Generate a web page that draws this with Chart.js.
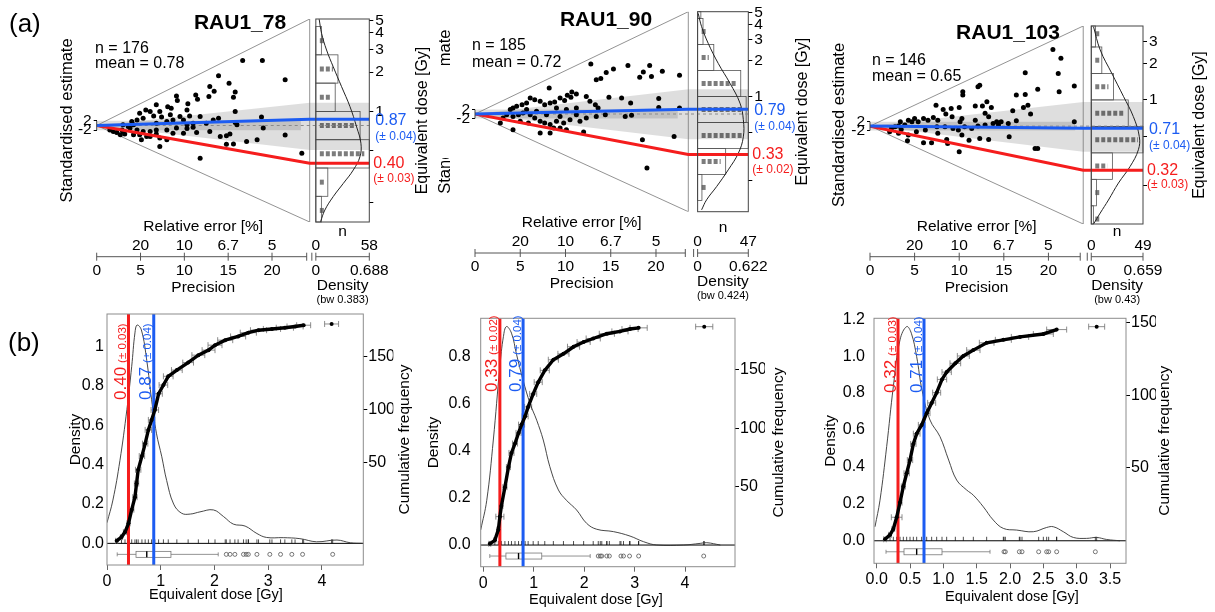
<!DOCTYPE html>
<html>
<head>
<meta charset="utf-8">
<title>Abanico and KDE plots</title>
<script src="https://cdn.jsdelivr.net/npm/chart.js@4.4.1/dist/chart.umd.min.js"></script>
<style>
  html, body { margin: 0; padding: 0; background: #fff; }
  #page { position: relative; width: 1215px; height: 612px; overflow: hidden;
          font-family: "Liberation Sans", Arial, Helvetica, sans-serif; color: #000; background: #fff; }
  #page canvas { position: absolute; left: 0; top: 0; }
  .txt { position: absolute; white-space: nowrap; z-index: 10; }
  .tag { font-size: 26px; line-height: 26px; }
  .title { font-size: 21px; line-height: 21px; font-weight: bold; transform: translateX(-50%); }
  .stat { font-size: 16px; line-height: 16px; }
  .mask { position: absolute; background: #fff; z-index: 9; }
</style>
</head>
<body>
<div id="page">
  <div class="txt tag" style="left:9px;top:10px">(a)</div>
  <div class="txt tag" style="left:8px;top:329px">(b)</div>

  <div class="txt title" style="left:240px;top:11px">RAU1_78</div>
  <div class="txt title" style="left:606px;top:8px">RAU1_90</div>
  <div class="txt title" style="left:1008px;top:21px">RAU1_103</div>

  <div class="txt stat" style="left:95px;top:40px">n = 176</div>
  <div class="txt stat" style="left:95px;top:55px">mean = 0.78</div>
  <div class="txt stat" style="left:472px;top:37px">n = 185</div>
  <div class="txt stat" style="left:472px;top:54px">mean = 0.72</div>
  <div class="txt stat" style="left:872px;top:52px">n = 146</div>
  <div class="txt stat" style="left:872px;top:68px">mean = 0.65</div>

  <div class="mask" style="left:437px;top:65px;width:17px;height:93px"></div>
</div>

<script>
const FONT = '"Liberation Sans", Arial, Helvetica, sans-serif';
const RED = '#f51d1d';
const BLUE = '#1c5cf2';

// values
const samples = ['RAU1_78', 'RAU1_90', 'RAU1_103'];
const centralDose = [0.78, 0.72, 0.74];
const blueDose = [0.87, 0.79, 0.71];
const blueErr = [0.04, 0.04, 0.04];
const redDose = [0.40, 0.33, 0.32];
const redErr = [0.03, 0.02, 0.03];
const bandwidth = ['0.383', '0.424', '0.43'];
const nMaxTop = [58, 47, 49];
const densMaxTop = [0.688, 0.622, 0.659];
const wedgeUpper = [9.8, 11.2, 11.0];
const wedgeLower = [-10.5, -11.5, -11.7];

const zTicks = [-2, 2];
const precTicks = [0, 5, 10, 15, 20];
const relErrTicks = [5, 10, 15, 20];
const relErrLabels = ['20', '10', '6.7', '5'];
const doseTicks = [[0.2, 0.5, 1, 2, 3, 4, 5], [0.2, 0.5, 1, 2, 3, 4, 5], [0.2, 0.5, 1, 2, 3]];

// abanico dots: precision and standardised estimate
const prec78 = [16.65,18.9,21.5,13.9,15.1,13.4,12.9,15.8,15.6,12.8,11.3,11.5,10.4,10.3,9.1,9.2,8.1,8.5,6.8,7.2,
  5.6,6.1,4.9,6.5,7.4,8.4,9.5,10.6,11.8,11.0,9.9,8.7,8.0,5.3,4.6,4.0,4.2,3.0,3.6,15.8,
  18.8,15.8,16.0,13.9,13.3,12.5,11.0,10.3,9.1,8.0,6.8,6.1,5.3,4.6,3.8,2.9,2.3,2.7,3.2,4.2,
  4.9,6.1,6.8,7.2,8.7,9.9,11.4,12.9,14.8,15.2,14.1,17.1,18.3,19.0,21.5,14.8,15.6,7.2,8.0,11.8,
  23.4,5.7,5.1,3.0,1.5,1.9,10.3,6.8];
const z78 = [27.9,27.9,19.6,21.3,18.1,14.7,16.7,14.4,12.1,12.4,13.1,11.3,9.3,6.7,12.7,10.7,8.1,7.4,8.9,6.0,
  6.7,6.0,5.3,4.1,3.6,4.6,3.9,4.1,3.9,1.0,2.4,2.4,1.7,3.1,2.4,1.7,0.3,0.3,-0.4,6.0,
  3.6,1.3,0.3,3.1,2.4,1.0,-0.7,-1.3,-1.1,-1.9,-1.9,-2.6,-2.6,-1.9,-1.1,-1.9,-3.0,-4.0,-3.6,-4.0,
  -4.0,-4.7,-3.6,-5.4,-3.3,-3.3,-3.0,-2.6,-4.4,-3.6,-4.7,-6.9,-6.1,-1.1,-4.1,-8.0,-7.9,-9.0,-6.1,-14.0,
  -11.9,-4.7,-6.1,-2.6,-1.9,-2.6,0.3,1.0];
const prec90 = [12.8,16.9,19.3,22.6,20.7,18.6,19.5,18.2,15.3,14.5,13.9,13.4,8.2,11.2,10.7,10.2,10.6,9.9,9.4,8.8,
  8.3,7.7,7.2,6.6,6.1,5.7,5.2,4.6,4.2,3.9,12.3,12.7,13.3,13.6,14.8,16.2,17.2,20.3,20.3,22.6,
  16.6,17.3,14.4,13.4,12.3,11.6,10.5,9.8,9.0,8.3,7.7,7.2,6.6,6.1,5.3,4.8,4.2,3.5,3.1,2.8,
  4.2,7.2,8.3,8.7,9.4,10.1,12.0,22.0,18.5,19.0,6.8,5.7,9.0,10.1,11.2,7.9,9.4,11.2,5.0,5.9];
const z90 = [22.7,22.1,22.1,17.6,19.4,19.1,17.1,16.7,20.5,18.9,16.1,15.6,11.8,9.1,10.0,8.5,7.6,6.1,7.3,5.5,
  5.0,4.2,5.8,6.5,7.3,5.0,4.2,3.5,2.7,2.0,8.0,5.8,4.2,2.7,7.6,7.3,5.0,7.0,3.0,2.7,
  -1.1,-0.6,-0.3,-1.1,-1.8,-3.3,-2.6,-4.1,-3.3,-4.8,-4.1,-3.3,-1.8,-0.3,0.5,-0.3,-1.1,-0.3,-1.8,-4.1,
  -7.1,-8.6,-8.6,-6.4,-6.4,-7.1,-8.2,-10.2,-11.7,-24.5,1.2,2.0,2.7,2.0,2.7,-0.3,-1.1,-0.3,-3.3,-4.1];
const prec103 = [20.5,21.4,17.4,21.1,22.9,21.2,18.8,17.4,16.4,12.3,12.1,10.4,10.4,7.4,8.2,9.1,10.0,8.5,9.2,10.3,
  10.1,11.8,12.6,13.1,13.6,13.3,12.9,14.2,14.7,16.0,17.2,17.7,18.0,16.4,15.5,14.4,13.8,12.9,12.1,11.4,
  10.6,9.9,9.3,8.4,7.6,7.1,6.5,6.0,5.4,5.0,4.7,4.3,3.9,3.4,3.2,2.8,2.4,2.2,3.2,4.3,
  4.2,6.0,6.9,8.7,8.6,10.0,12.3,13.3,15.6,18.5,18.8,22.9,11.1,10.3,7.6,6.2,5.2,3.5,11.8,7.5];
const z103 = [34.8,30.8,24.2,23.9,18.2,15.6,16.7,14.4,14.1,18.6,17.9,15.6,14.1,9.5,7.6,8.0,8.5,5.5,4.2,3.5,
  2.0,9.1,9.1,11.1,8.5,4.2,5.8,2.0,2.0,7.0,8.5,9.5,5.5,2.4,1.2,0.5,1.2,0.5,0,-1.1,
  -0.3,-1.8,-1.1,-0.3,2.7,3.9,2.7,3.5,2.0,3.5,2.0,2.7,0.5,2.0,0,-0.3,-1.1,-2.6,-3.3,-4.1,
  -6.7,-7.6,-7.6,-7.9,-6.1,-11.7,-5.6,-6.1,-4.8,-10.2,-10.2,2.0,-6.4,-4.1,-3.3,-1.8,-2.6,-1.5,2.7,-0.3];

// histograms of log dose (bin edges in ln Gy, counts low to high)
const binEdgesLn = [-2.5, -2, -1.5, -1, -0.5, 0, 0.5, 1, 1.5, 2];
const hist78 = [0, 6, 13, 58, 48, 21, 24, 6, 0];
const hist90 = [0, 4, 26, 47, 45, 40, 15, 5, 3];
const hist103 = [2, 5, 20, 49, 35, 21, 10, 4, 0];

// KDE beside the histograms (density, dose)
const kdeTopDens78 = [0.043,0.074,0.138,0.224,0.331,0.439,0.525,0.58,0.568,0.482,0.353,0.224,0.116,0.06];
const kdeTopDose78 = [5.1,3.97,2.96,2.2,1.55,1.09,0.76,0.57,0.45,0.355,0.28,0.222,0.175,0.142];
const kdeTopDens90 = [0.007,0.049,0.13,0.253,0.397,0.52,0.561,0.561,0.5,0.376,0.234,0.11,0.049];
const kdeTopDose90 = [4.95,3.83,2.78,1.89,1.29,0.88,0.64,0.46,0.336,0.244,0.177,0.137,0.113];
const kdeTopDens103 = [0.029,0.114,0.262,0.41,0.536,0.612,0.6,0.494,0.346,0.219,0.114,0.029];
const kdeTopDose103 = [3.98,2.57,1.65,1.07,0.73,0.50,0.39,0.284,0.208,0.151,0.118,0.096];

// (b) cumulative curves: dose, rank, error
const ecdfDose78 = [0.18,0.27,0.335,0.40,0.46,0.52,0.55,0.58,0.65,0.71,0.77,0.83,0.89,0.96,1.05,1.14,1.30,1.51,1.70,1.89,
  2.01,2.20,2.44,2.63,2.82,3.07,3.31,3.50,3.66,4.18];
const ecdfRank78 = [2,5,9,16,27,37,48,59,70,80,91,99,107,120,127,134,139,145,151,155,159,163,166,169,171,172,173,174,175,176];
const ecdfErr78 = [0.02,0.02,0.03,0.03,0.04,0.04,0.04,0.05,0.05,0.05,0.06,0.06,0.07,0.07,0.08,0.09,0.1,0.1,0.12,0.12,
  0.13,0.14,0.14,0.15,0.15,0.16,0.16,0.15,0.13,0.13];
const ecdfDose90 = [0.13,0.23,0.30,0.33,0.36,0.43,0.50,0.56,0.63,0.70,0.76,0.83,0.89,0.99,1.09,1.22,1.39,1.59,1.79,1.99,
  2.18,2.45,2.71,2.91,3.08,4.38];
const ecdfRank90 = [1,4,13,24,33,49,66,78,86,95,102,109,117,128,138,148,157,162,168,172,175,179,181,183,184,185];
const ecdfErr90 = [0.02,0.02,0.03,0.08,0.03,0.04,0.04,0.05,0.05,0.05,0.06,0.06,0.07,0.07,0.08,0.09,0.1,0.11,0.12,0.13,
  0.14,0.15,0.16,0.16,0.17,0.17];
const ecdfDose103 = [0.125,0.20,0.25,0.30,0.35,0.40,0.45,0.50,0.55,0.60,0.675,0.75,0.825,0.90,0.98,1.05,1.18,1.30,1.45,1.65,
  1.90,2.15,2.50,2.70,3.30];
const ecdfRank103 = [1,4,8,16,26,37,46,55,66,73,79,87,94,101,110,115,121,126,130,135,137,139,141,144,146];
const ecdfErr103 = [0.02,0.02,0.02,0.08,0.03,0.03,0.04,0.04,0.04,0.05,0.05,0.05,0.06,0.06,0.07,0.07,0.08,0.09,0.1,0.11,
  0.12,0.13,0.15,0.15,0.12];

// (b) density curves
const kdeDose78 = [0.0,0.11,0.24,0.37,0.46,0.52,0.56,0.64,0.74,0.83,0.92,1.02,1.11,1.24,1.39,1.55,1.73,1.98,2.17,2.35,
  2.57,2.79,2.97,3.28,3.59,3.90,4.28,4.53,4.77];
const kdeDens78 = [0.105,0.22,0.42,0.68,0.90,1.07,1.11,1.085,0.93,0.73,0.56,0.44,0.32,0.20,0.153,0.149,0.16,0.17,0.136,0.098,
  0.088,0.05,0.03,0.029,0.024,0.008,0.017,0.003,0.0];
const kdeDose90 = [-0.05,0.07,0.2,0.33,0.40,0.46,0.56,0.66,0.79,0.93,1.06,1.19,1.32,1.49,1.65,1.85,2.05,2.25,2.58,2.91,
  3.18,3.44,3.97,4.30,4.43,4.70];
const kdeDens90 = [0.064,0.19,0.446,0.758,0.885,0.928,0.90,0.81,0.70,0.60,0.53,0.446,0.333,0.234,0.19,0.149,0.092,0.067,0.057,0.038,
  0.014,0.0,0.0,0.007,0.01,0.0];
const kdeDose103 = [-0.025,0.05,0.15,0.25,0.35,0.45,0.52,0.60,0.68,0.80,0.95,1.08,1.20,1.35,1.45,1.60,1.75,1.90,2.10,2.35,
  2.55,2.65,2.80,2.95,3.15,3.30,3.45,3.65];
const kdeDens103 = [0.076,0.22,0.51,0.835,1.088,1.16,1.124,0.997,0.817,0.654,0.564,0.437,0.329,0.275,0.247,0.184,0.112,0.067,0.058,0.049,
  0.072,0.076,0.049,0.018,0.013,0.018,0.007,0.0];

// boxplots: lower whisker, q1, median, q3, upper whisker; then outliers
const box78 = [0.19, 0.54, 0.74, 1.19, 2.07];
const out78 = [2.22,2.29,2.38,2.54,2.59,2.63,2.79,3.03,3.23,3.44,3.64,4.20];
const box90 = [0.13, 0.45, 0.70, 1.16, 2.12];
const out90 = [2.28,2.32,2.35,2.45,2.50,2.73,2.78,2.90,3.08,4.37];
const box103 = [0.14, 0.41, 0.60, 0.98, 1.70];
const out103 = [1.91,1.93,2.14,2.18,2.43,2.55,2.58,2.70,3.28];

const densTicks = [[0, 0.2, 0.4, 0.6, 0.8, 1], [0, 0.2, 0.4, 0.6, 0.8], [0, 0.2, 0.4, 0.6, 0.8, 1.0, 1.2]];
const densTickLabels = [['0.0','0.2','0.4','0.6','0.8','1'], ['0.0','0.2','0.4','0.6','0.8'], ['0.0','0.2','0.4','0.6','0.8','1.0','1.2']];
const doseAxisTicks = [[0, 1, 2, 3, 4], [0, 1, 2, 3, 4], [0, 0.5, 1, 1.5, 2, 2.5, 3, 3.5]];
const doseAxisLabels = [['0','1','2','3','4'], ['0','1','2','3','4'], ['0.0','0.5','1.0','1.5','2.0','2.5','3.0','3.5']];
const cumTicks = [50, 100, 150];

const dotPrec = [prec78, prec90, prec103];
const dotZ = [z78, z90, z103];
const hists = [hist78, hist90, hist103];
const kdeTop = [[kdeTopDens78, kdeTopDose78], [kdeTopDens90, kdeTopDose90], [kdeTopDens103, kdeTopDose103]];
const ecdf = [[ecdfDose78, ecdfRank78, ecdfErr78], [ecdfDose90, ecdfRank90, ecdfErr90], [ecdfDose103, ecdfRank103, ecdfErr103]];
const kdeBottom = [[kdeDose78, kdeDens78], [kdeDose90, kdeDens90], [kdeDose103, kdeDens103]];
const boxes = [box78, box90, box103];
const outliers = [out78, out90, out103];

// page layout (pixels) and axis ranges for each panel
const topLayout = [
  { padLeft: 58, originX: 96.7, rightX: 369.3, top: 19, bottom: 222, xT: 24.3, xH0: 25.0, xMax: 31.1, bandEnd: 23.3,
    zMin: -41.4, zMax: 45.7, dMin: 0.1417, dMax: 5.12, axisY: 256.7, eqTitleX: 423 },
  { padLeft: 436, originX: 475, rightX: 748.3, top: 11.7, bottom: 211.7, xT: 23.57, xH0: 24.6, xMax: 30.2, bandEnd: 22.4,
    zMin: -44.4, zMax: 46.5, dMin: 0.109, dMax: 5.11, axisY: 253, eqTitleX: 803 },
  { padLeft: 829.3, originX: 870, rightX: 1143, top: 26, bottom: 224, xT: 23.9, xH0: 24.8, xMax: 30.6, bandEnd: 23,
    zMin: -44.5, zMax: 45.5, dMin: 0.096, dMax: 4.04, axisY: 256.7, eqTitleX: 1200 }
];
const bottomLayout = [
  { left: 107, right: 363.3, top: 314, bottom: 565, xMin: 0, xMax: 4.77, yMin: -0.11, yMax: 1.166,
    rMin: -47.5, rMax: 190.8, cMin: -17.4, cMax: 184, densTitleX: 75, cumTitleX: 405, xTitleX: 216, xTitleY: 595,
    tickPad: 3, labelY: 400 },
  { left: 480.7, right: 735, top: 318.3, bottom: 566.7, xMin: -0.05, xMax: 4.99, yMin: -0.092, yMax: 0.963,
    rMin: -18.5, rMax: 194.2, cMin: -18.4, cMax: 192.1, densTitleX: 433.3, cumTitleX: 778.3, xTitleX: 596, xTitleY: 600,
    tickPad: 10, labelY: 392 },
  { left: 874, right: 1126, top: 318.3, bottom: 563.3, xMin: -0.04, xMax: 3.74, yMin: -0.122, yMax: 1.205,
    rMin: -15.9, rMax: 153, cMin: -15.4, cMax: 151.7, densTitleX: 830, cumTitleX: 1165, xTitleX: 1012, xTitleY: 596.7,
    tickPad: 9, labelY: 393 }
];

const page = document.getElementById('page');

function addCanvas() {
  const c = document.createElement('canvas');
  c.width = 1215;
  c.height = 612;
  c.style.width = '1215px';
  c.style.height = '612px';
  page.insertBefore(c, page.firstChild);
  return c;
}

function seg(ctx, x0, y0, x1, y1) {
  ctx.beginPath();
  ctx.moveTo(x0, y0);
  ctx.lineTo(x1, y1);
  ctx.stroke();
}

function vText(ctx, text, x, y, font, color) {
  ctx.save();
  ctx.translate(x, y);
  ctx.rotate(-Math.PI / 2);
  ctx.font = font;
  ctx.fillStyle = color;
  ctx.textAlign = 'center';
  ctx.textBaseline = 'middle';
  ctx.fillText(text, 0, 0);
  ctx.restore();
}

const baseOptions = {
  responsive: false,
  animation: false,
  events: [],
  plugins: { legend: { display: false }, tooltip: { enabled: false } }
};

function abanico(i) {
  const L = topLayout[i];
  const z0 = centralDose[i];
  const zBlue = L.xT * Math.log(blueDose[i] / z0);
  const zRed = L.xT * Math.log(redDose[i] / z0);
  const shift = L.xH0 / (L.xMax - L.xH0);
  const leftW = L.originX - L.padLeft;
  const rightW = 24;
  const dots = dotPrec[i].map((p, k) => ({ x: p, y: dotZ[i][k] }));
  const kde = kdeTop[i][0].map((d, k) => ({ x: d, y: kdeTop[i][1][k] }));
  const tickFont = { family: FONT, size: 15.5 };

  new Chart(addCanvas(), {
    type: 'scatter',
    data: {
      datasets: [
        { type: 'line', data: [{ x: 0, y: 0 }, { x: L.xT, y: zBlue }, { x: L.xMax, y: zBlue }],
          borderColor: BLUE, borderWidth: 3, pointRadius: 0 },
        { type: 'line', data: [{ x: 0, y: 0 }, { x: L.xT, y: zRed }, { x: L.xMax, y: zRed }],
          borderColor: RED, borderWidth: 3, pointRadius: 0 },
        { data: dots, backgroundColor: '#000', borderWidth: 0, pointRadius: 2.5 },
        { type: 'line', xAxisID: 'xK', yAxisID: 'yD', data: kde, borderColor: '#222', borderWidth: 1,
          pointRadius: 0, tension: 0.4 },
        { type: 'line', data: [{ x: L.xT, y: L.zMax }, { x: 0, y: 0 }, { x: L.xT, y: L.zMin }, { x: L.xT, y: L.zMax }],
          borderColor: '#777', borderWidth: 0.8, pointRadius: 0 },
        { type: 'line', data: [{ x: 0, y: 0 }, { x: L.xMax, y: 0 }], borderColor: '#8a8a8a', borderWidth: 1,
          borderDash: [3, 3], pointRadius: 0 },
        { type: 'line', data: [{ x: 0, y: -2 }, { x: L.bandEnd, y: -2 }, { x: L.bandEnd, y: 2 }, { x: 0, y: 2 }, { x: 0, y: -2 }],
          borderWidth: 0, backgroundColor: 'rgba(0,0,0,0.13)', fill: 'shape', pointRadius: 0 },
        { type: 'line', data: [{ x: 0, y: 0 }, { x: L.xT, y: wedgeUpper[i] }, { x: L.xMax, y: wedgeUpper[i] },
                               { x: L.xMax, y: wedgeLower[i] }, { x: L.xT, y: wedgeLower[i] }, { x: 0, y: 0 }],
          borderWidth: 0, backgroundColor: 'rgba(0,0,0,0.13)', fill: 'shape', pointRadius: 0 }
      ]
    },
    options: {
      ...baseOptions,
      layout: { padding: { left: L.padLeft, right: 1215 - L.rightX - rightW, top: L.top, bottom: 612 - L.bottom } },
      scales: {
        x: { type: 'linear', display: false, min: 0, max: L.xMax },
        xH: { type: 'linear', display: false, min: -shift * nMaxTop[i], max: nMaxTop[i] },
        xK: { type: 'linear', display: false, min: -shift * densMaxTop[i], max: densMaxTop[i] },
        y: {
          type: 'linear', position: 'left', min: L.zMin, max: L.zMax,
          afterBuildTicks: s => { s.ticks = zTicks.map(v => ({ value: v })); },
          afterFit: s => { s.width = leftW; },
          ticks: { autoSkip: false, padding: 2, font: tickFont, color: '#000', callback: v => String(v) },
          grid: { display: true, drawOnChartArea: false, drawTicks: true, tickLength: 3, color: '#000' },
          border: { display: false },
          title: { display: true, text: 'Standardised estimate', font: { family: FONT, size: 16.5 }, color: '#000', padding: 0 }
        },
        yD: {
          type: 'logarithmic', position: 'right', min: L.dMin, max: L.dMax,
          afterBuildTicks: s => { s.ticks = doseTicks[i].map(v => ({ value: v })); },
          afterFit: s => { s.width = rightW; },
          ticks: { autoSkip: false, padding: 2, font: tickFont, color: '#000', callback: v => (v >= 1 ? String(v) : '') },
          grid: { display: true, drawOnChartArea: false, drawTicks: true, tickLength: 4, color: '#000' },
          border: { display: false }
        }
      }
    },
    plugins: [{
      id: 'abanicoParts',
      beforeDatasetsDraw(chart) {
        const { ctx, chartArea: a, scales: { xH, yD } } = chart;
        ctx.save();
        const x0 = xH.getPixelForValue(0);
        hists[i].forEach((n, k) => {
          if (!n) return;
          const y0 = yD.getPixelForValue(Math.exp(binEdgesLn[k]));
          const y1 = yD.getPixelForValue(Math.exp(binEdgesLn[k + 1]));
          const top = Math.max(Math.min(y0, y1), a.top);
          const bot = Math.min(Math.max(y0, y1), a.bottom);
          if (bot <= top) return;
          const x1 = xH.getPixelForValue(n);
          ctx.strokeStyle = '#555';
          ctx.lineWidth = 0.8;
          ctx.setLineDash([]);
          ctx.strokeRect(x0, top, x1 - x0, bot - top);
          const yc = (y0 + y1) / 2;
          if (yc > a.top + 3 && yc < a.bottom - 3) {
            ctx.strokeStyle = 'rgba(80,80,80,0.75)';
            ctx.lineWidth = 5;
            ctx.setLineDash([4, 2]);
            seg(ctx, x0 + 4, yc, Math.max(x0 + 8, x1 - 5), yc);
          }
        });
        ctx.restore();
      },
      afterDraw(chart) {
        const { ctx, chartArea: a, scales: { x, xH, y } } = chart;
        ctx.save();
        const hx0 = xH.getPixelForValue(0);
        const xT = x.getPixelForValue(L.xT);
        ctx.strokeStyle = '#444';
        ctx.lineWidth = 1;
        ctx.strokeRect(hx0, a.top, a.right - hx0, a.bottom - a.top);
        seg(ctx, a.left, y.getPixelForValue(-2), a.left, y.getPixelForValue(2));

        // precision / relative error axis and the histogram axis
        const ay = L.axisY;
        ctx.strokeStyle = '#555';
        const xEnd = xT - 3;
        seg(ctx, a.left, ay, xEnd, ay);
        seg(ctx, xEnd, ay - 4, xEnd, ay + 4);
        seg(ctx, hx0 - 4, ay - 4, hx0 - 4, ay + 4);
        seg(ctx, hx0, ay, a.right, ay);
        precTicks.forEach(v => { const px = x.getPixelForValue(v); seg(ctx, px, ay - 4, px, ay + 4); });
        seg(ctx, hx0, ay - 4, hx0, ay + 4);
        seg(ctx, a.right, ay - 4, a.right, ay + 4);

        ctx.fillStyle = '#000';
        ctx.textAlign = 'center';
        ctx.textBaseline = 'middle';
        ctx.font = '15.5px ' + FONT;
        relErrTicks.forEach((v, k) => ctx.fillText(relErrLabels[k], x.getPixelForValue(v), ay - 11));
        precTicks.forEach(v => ctx.fillText(String(v), x.getPixelForValue(v), ay + 14));
        const mid = (a.left + xT) / 2;
        ctx.fillText('Relative error [%]', mid, ay - 30);
        ctx.fillText('Precision', mid, ay + 31);
        const hmid = (hx0 + a.right) / 2;
        ctx.fillText('n', hmid, ay - 25);
        ctx.fillText('0', hx0, ay - 11);
        ctx.fillText(String(nMaxTop[i]), a.right, ay - 11);
        ctx.fillText('0', hx0, ay + 14);
        ctx.fillText(String(densMaxTop[i]), a.right, ay + 14);
        ctx.fillText('Density', hmid, ay + 29);
        ctx.font = '11px ' + FONT;
        ctx.fillText('(bw ' + bandwidth[i] + ')', hmid, ay + 43);

        // central value labels at the right axis
        ctx.textAlign = 'left';
        const yb = y.getPixelForValue(zBlue);
        const yr = y.getPixelForValue(zRed);
        ctx.fillStyle = BLUE;
        ctx.font = '16px ' + FONT;
        ctx.fillText(blueDose[i].toFixed(2), a.right + 6, yb + 1);
        ctx.font = '12px ' + FONT;
        ctx.fillText('(\u00b1 ' + blueErr[i].toFixed(2) + ')', a.right + 6, yb + 17);
        ctx.fillStyle = RED;
        ctx.font = '16px ' + FONT;
        ctx.fillText(redDose[i].toFixed(2), a.right + 4, yr);
        ctx.font = '12px ' + FONT;
        ctx.fillText('(\u00b1 ' + redErr[i].toFixed(2) + ')', a.right + 4, yr + 15);
        ctx.restore();

        vText(ctx, 'Equivalent dose [Gy]', L.eqTitleX, (a.top + a.bottom) / 2, '16px ' + FONT, '#000');
      }
    }]
  });
}

function kdePanel(i) {
  const B = bottomLayout[i];
  const [eDose, eRank, eErr] = ecdf[i];
  const cum = eDose.map((d, k) => ({ x: d, y: eRank[k] }));
  const kde = kdeBottom[i][0].map((d, k) => ({ x: d, y: kdeBottom[i][1][k] }));
  const tickFont = { family: FONT, size: 16 };
  const titleFont = { family: FONT, size: 15.5 };
  const padLeft = B.densTitleX - 9;
  const rightW = 30;

  new Chart(addCanvas(), {
    type: 'scatter',
    data: {
      datasets: [
        { type: 'line', yAxisID: 'yC', data: cum, borderColor: '#000', borderWidth: 3.4, pointRadius: 2,
          pointBackgroundColor: '#000', pointBorderWidth: 0,
          segment: { borderColor: c => (c.p1.parsed.x - c.p0.parsed.x > 0.4 ? 'rgba(0,0,0,0)' : '#000') } },
        { type: 'line', data: [{ x: blueDose[i], y: B.yMin }, { x: blueDose[i], y: B.yMax }],
          borderColor: BLUE, borderWidth: 3, pointRadius: 0 },
        { type: 'line', data: [{ x: redDose[i], y: B.yMin }, { x: redDose[i], y: B.yMax }],
          borderColor: RED, borderWidth: 3, pointRadius: 0 },
        { type: 'line', data: kde, borderColor: '#333', borderWidth: 0.9, pointRadius: 0, tension: 0.4 }
      ]
    },
    options: {
      ...baseOptions,
      layout: { padding: { left: padLeft, right: 1215 - B.right - rightW, top: B.top, bottom: 612 - (B.xTitleY + 9) } },
      scales: {
        x: {
          type: 'linear', position: 'bottom', min: B.xMin, max: B.xMax,
          afterBuildTicks: s => { s.ticks = doseAxisTicks[i].map(v => ({ value: v })); },
          afterFit: s => { s.height = B.xTitleY + 9 - B.bottom; },
          ticks: { autoSkip: false, maxRotation: 0, padding: 2, font: tickFont, color: '#000',
                   callback: (v, k) => doseAxisLabels[i][k] },
          grid: { display: true, drawOnChartArea: false, drawTicks: true, tickLength: 5, color: '#666' },
          border: { display: false }
        },
        y: {
          type: 'linear', position: 'left', min: B.yMin, max: B.yMax,
          afterBuildTicks: s => { s.ticks = densTicks[i].map(v => ({ value: v })); },
          afterFit: s => { s.width = B.left - padLeft; },
          ticks: { autoSkip: false, padding: B.tickPad, font: tickFont, color: '#000',
                   callback: (v, k) => densTickLabels[i][k] },
          grid: { display: false, drawTicks: false },
          border: { display: false },
          title: { display: true, text: 'Density', font: titleFont, color: '#000', padding: 0 }
        },
        yR: {
          type: 'linear', position: 'right', min: B.rMin, max: B.rMax,
          afterBuildTicks: s => { s.ticks = cumTicks.map(v => ({ value: v })); },
          afterFit: s => { s.width = rightW; },
          ticks: { autoSkip: false, padding: 1, font: tickFont, color: '#000' },
          grid: { display: true, drawOnChartArea: false, drawTicks: true, tickLength: 4, color: '#000' },
          border: { display: false }
        },
        yC: { type: 'linear', display: false, min: B.cMin, max: B.cMax }
      }
    },
    plugins: [{
      id: 'kdeParts',
      beforeDatasetsDraw(chart) {
        const { ctx, chartArea: a, scales: { x, y, yC } } = chart;
        ctx.save();
        const y0 = y.getPixelForValue(0);
        ctx.strokeStyle = '#000';
        ctx.lineWidth = 1;
        seg(ctx, a.left, y0, a.right, y0);

        // rug
        ctx.lineWidth = 0.7;
        eDose.concat(outliers[i]).forEach(d => {
          const px = x.getPixelForValue(d);
          seg(ctx, px, y0 - 4, px, y0);
        });

        // boxplot under the zero line
        const st = boxes[i].map(v => x.getPixelForValue(v));
        const yb = y0 + 11;
        ctx.strokeStyle = '#777';
        ctx.lineWidth = 0.8;
        seg(ctx, st[0], yb, st[1], yb);
        seg(ctx, st[3], yb, st[4], yb);
        seg(ctx, st[0], yb - 2, st[0], yb + 2);
        seg(ctx, st[4], yb - 2, st[4], yb + 2);
        ctx.fillStyle = '#fff';
        ctx.fillRect(st[1], yb - 3, st[3] - st[1], 6);
        ctx.strokeRect(st[1], yb - 3, st[3] - st[1], 6);
        ctx.strokeStyle = '#000';
        ctx.lineWidth = 1.4;
        seg(ctx, st[2], yb - 3, st[2], yb + 3);
        ctx.strokeStyle = '#555';
        ctx.lineWidth = 0.8;
        outliers[i].forEach(d => {
          ctx.beginPath();
          ctx.arc(x.getPixelForValue(d), yb, 2, 0, Math.PI * 2);
          ctx.stroke();
        });

        // horizontal error bars of the cumulative curve
        ctx.strokeStyle = '#707070';
        ctx.lineWidth = 0.8;
        eDose.forEach((d, k) => {
          const yc = yC.getPixelForValue(eRank[k]);
          const xl = x.getPixelForValue(d - eErr[k]);
          const xr = x.getPixelForValue(d + eErr[k]);
          seg(ctx, xl, yc, xr, yc);
          seg(ctx, xl, yc - 3, xl, yc + 3);
          seg(ctx, xr, yc - 3, xr, yc + 3);
        });
        ctx.restore();
      },
      afterDraw(chart) {
        const { ctx, chartArea: a, scales: { x } } = chart;
        ctx.save();
        ctx.strokeStyle = '#8c8c8c';
        ctx.lineWidth = 1;
        ctx.strokeRect(a.left, a.top, a.right - a.left, a.bottom - a.top);

        const marks = [[redDose[i], redErr[i], RED], [blueDose[i], blueErr[i], BLUE]];
        marks.forEach(([d, e, col]) => {
          ctx.save();
          ctx.translate(x.getPixelForValue(d) - 2.5, B.labelY);
          ctx.rotate(-Math.PI / 2);
          ctx.fillStyle = col;
          ctx.textAlign = 'left';
          ctx.textBaseline = 'alphabetic';
          ctx.font = '17px ' + FONT;
          const main = d.toFixed(2);
          ctx.fillText(main, 0, 0);
          const w = ctx.measureText(main).width;
          ctx.font = '11.5px ' + FONT;
          ctx.fillText('(\u00b1 ' + e.toFixed(2) + ')', w + 4, 0);
          ctx.restore();
        });

        ctx.fillStyle = '#000';
        ctx.textAlign = 'center';
        ctx.textBaseline = 'middle';
        ctx.font = '14.5px ' + FONT;
        ctx.fillText('Equivalent dose [Gy]', B.xTitleX, B.xTitleY);
        ctx.restore();

        vText(ctx, 'Cumulative frequency', B.cumTitleX, (a.top + a.bottom) / 2, '15.5px ' + FONT, '#000');
      }
    }]
  });
}

[0, 1, 2].forEach(i => { abanico(i); kdePanel(i); });
</script>
</body>
</html>
